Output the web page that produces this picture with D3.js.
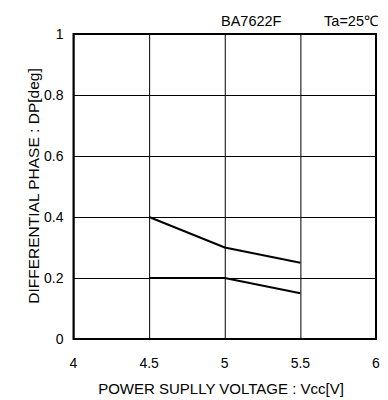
<!DOCTYPE html>
<html>
<head>
<meta charset="utf-8">
<script src="https://cdn.jsdelivr.net/npm/d3@7"></script>
<style>
body{margin:0;background:#fff;}
text{font-family:"Liberation Sans",Arial,sans-serif;fill:#000;}
</style>
</head>
<body>
<div id="chart"></div>
<script>
// values
var vcc = [4.5, 5, 5.5];
var dpUpper = [0.4, 0.3, 0.25];
var dpLower = [0.2, 0.2, 0.15];
var xTicks = [4, 4.5, 5, 5.5, 6];
var yTicks = [0, 0.2, 0.4, 0.6, 0.8, 1];

var w = 388, h = 400;
// plot box edges (note: "top" is reserved on window, so use other names)
var pLeft = 73.5, pRight = 376, pTop = 34, pBottom = 339;

var svg = d3.select("#chart").append("svg")
    .attr("width", w).attr("height", h);

var x = d3.scaleLinear().domain([4, 6]).range([pLeft, pRight]);
var y = d3.scaleLinear().domain([0, 1]).range([pBottom, pTop]);

//grid lines
svg.append("g")
    .attr("transform", "translate(0," + pBottom + ")")
    .call(d3.axisBottom(x).tickValues(xTicks).tickSize(-(pBottom - pTop)).tickFormat(""))
    .call(function(g){ g.select(".domain").remove(); })
    .selectAll("line").attr("stroke", "#000").attr("stroke-width", 1);

svg.append("g")
    .attr("transform", "translate(" + pLeft + ",0)")
    .call(d3.axisLeft(y).tickValues(yTicks).tickSize(-(pRight - pLeft)).tickFormat(""))
    .call(function(g){ g.select(".domain").remove(); })
    .selectAll("line").attr("stroke", "#000").attr("stroke-width", 1);

//tick labels
svg.selectAll(".xl").data(xTicks).enter().append("text")
    .attr("x", function(d){ return x(d); })
    .attr("y", pBottom + 29)
    .attr("text-anchor", "middle")
    .attr("font-size", 14)
    .text(function(d){ return d; });

svg.selectAll(".yl").data(yTicks).enter().append("text")
    .attr("x", pLeft - 10)
    .attr("y", function(d){ return y(d) + 5; })
    .attr("text-anchor", "end")
    .attr("font-size", 14)
    .text(function(d){ return d; });

//frame
svg.append("rect")
    .attr("x", pLeft).attr("y", pTop)
    .attr("width", pRight - pLeft).attr("height", pBottom - pTop)
    .attr("fill", "none").attr("stroke", "#000").attr("stroke-width", 2);

//data lines
var line = d3.line()
    .x(function(d){ return x(d[0]); })
    .y(function(d){ return y(d[1]); });

[dpUpper, dpLower].forEach(function(s){
    svg.append("path")
        .datum(d3.zip(vcc, s))
        .attr("d", line)
        .attr("fill", "none")
        .attr("stroke", "#000")
        .attr("stroke-width", 2);
});

//labels
svg.append("text").attr("x", 221).attr("y", 26).attr("font-size", 14.5).text("BA7622F");
svg.append("text").attr("x", 378).attr("y", 26).attr("font-size", 14.5).attr("text-anchor", "end").text("Ta=25\u2103");

svg.append("text")
    .attr("x", 221).attr("y", 394)
    .attr("text-anchor", "middle").attr("font-size", 15)
    .text("POWER SUPLLY VOLTAGE : Vcc[V]");

svg.append("text")
    .attr("transform", "translate(39,186) rotate(-90)")
    .attr("text-anchor", "middle").attr("font-size", 15.5)
    .text("DIFFERENTIAL PHASE : DP[deg]");
</script>
</body>
</html>
